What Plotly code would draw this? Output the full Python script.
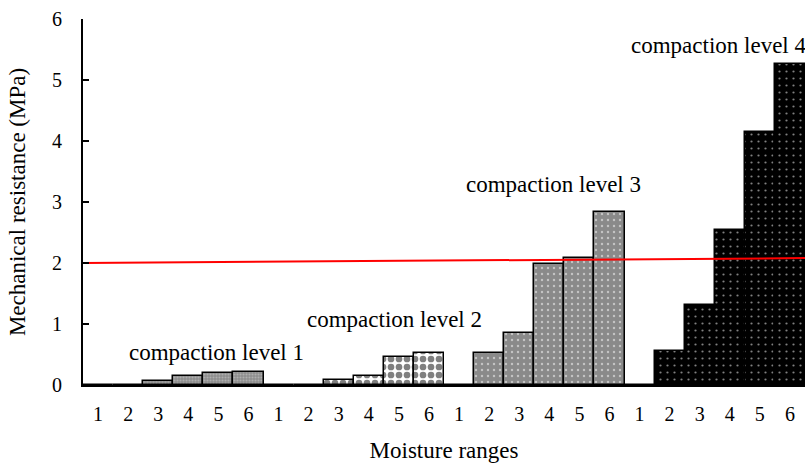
import plotly.graph_objects as go

moisture_labels = ["1", "2", "3", "4", "5", "6"]
level_names = ["compaction level 1", "compaction level 2", "compaction level 3", "compaction level 4"]
level1 = [0, 0, 0.07, 0.14, 0.19, 0.21]
level2 = [0, 0, 0.09, 0.15, 0.46, 0.53]
level3 = [0, 0.52, 0.85, 1.99, 2.09, 2.84]
level4 = [0, 0.56, 1.31, 2.54, 4.14, 5.27]
limit_line = [2.0, 2.08]

levels = [level1, level2, level3, level4]
patterns = [
    dict(shape=".", bgcolor="#8c8c8c", fgcolor="#d0d0d0", size=3, solidity=0.4),
    dict(shape=".", bgcolor="white", fgcolor="black", size=8, solidity=0.55),
    dict(shape=".", bgcolor="#8a8a8a", fgcolor="white", size=6, solidity=0.12),
    dict(shape=".", bgcolor="black", fgcolor="white", size=7, solidity=0.08),
]
font = "Liberation Serif, Times New Roman, serif"

fig = go.Figure()
n = len(moisture_labels)
for i, vals in enumerate(levels):
    xs = [i * n + j for j in range(n)]
    fig.add_trace(go.Bar(
        x=xs, y=vals, name=level_names[i],
        marker=dict(color=patterns[i]["bgcolor"], pattern=patterns[i],
                    line=dict(color="black", width=1.5)),
        showlegend=False,
    ))

total = n * len(levels)
fig.add_trace(go.Scatter(x=[-0.5, total - 0.5], y=limit_line, mode="lines",
                         line=dict(color="#ff0000", width=2), showlegend=False))

ann_pos = [(3.95, 0.54), (9.86, 1.07), (15.13, 3.28), (20.63, 5.57)]
for name, (ax, ay) in zip(level_names, ann_pos):
    fig.add_annotation(x=ax, y=ay, text=name, showarrow=False,
                       font=dict(family=font, size=23, color="black"))

fig.update_layout(
    width=805, height=464,
    margin=dict(l=83, r=0, t=19, b=79),
    plot_bgcolor="white", paper_bgcolor="white",
    bargap=0, barmode="overlay",
    font=dict(family=font, size=20, color="black"),
)
fig.update_xaxes(
    range=[-0.5, total - 0.5],
    tickvals=list(range(total)),
    ticktext=moisture_labels * len(levels),
    tickfont=dict(size=20),
    ticklabelstandoff=10,
    showline=True, linecolor="black", linewidth=2,
    ticks="", showgrid=False, zeroline=False,
    title=dict(text="Moisture ranges", font=dict(family=font, size=23), standoff=18),
)
fig.update_yaxes(
    range=[0, 6], dtick=1,
    tickfont=dict(size=20),
    ticklabelstandoff=15,
    showline=True, linecolor="black", linewidth=2,
    ticks="inside", ticklen=6, tickwidth=1.5, tickcolor="black",
    showgrid=False, zeroline=False,
    title=dict(text="Mechanical resistance (MPa)", font=dict(family=font, size=23), standoff=20),
)

fig.write_html("out.html")
